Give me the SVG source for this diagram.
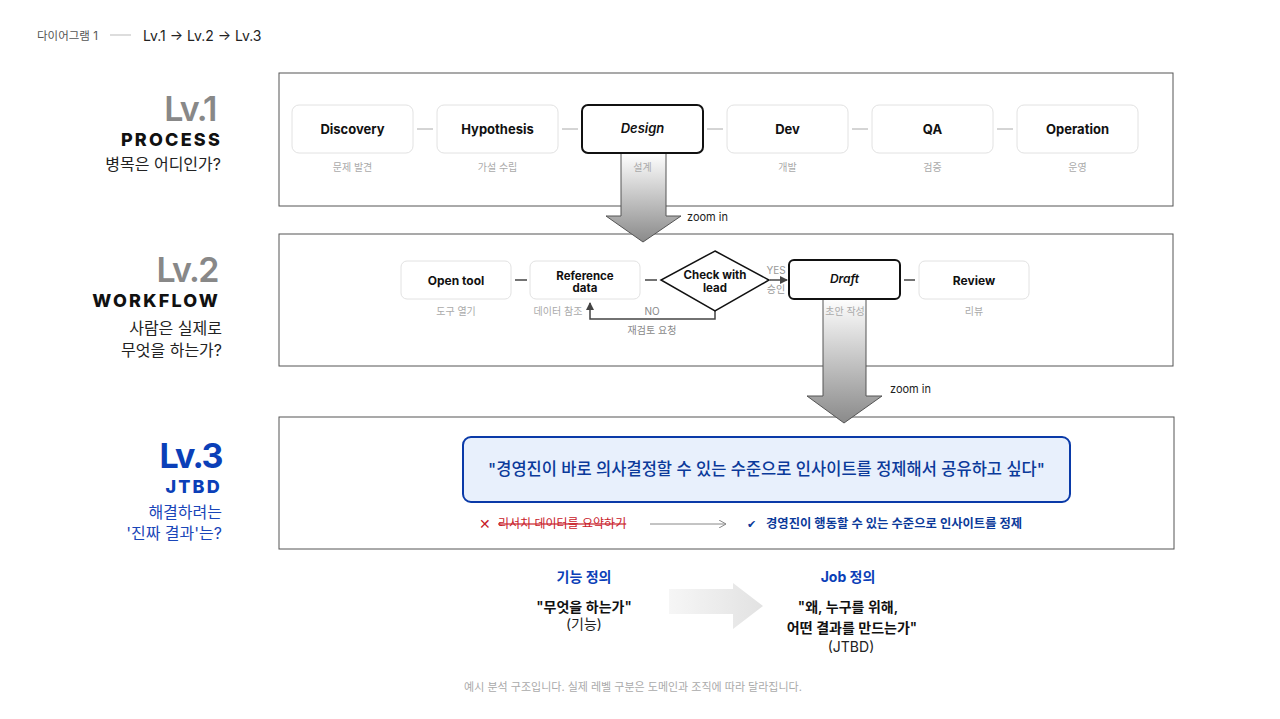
<svg xmlns="http://www.w3.org/2000/svg" width="1280" height="719" viewBox="0 0 1280 719">
<style>
text{font-family:Inter,"Noto Sans CJK KR",sans-serif;}
.panel{fill:#fff;stroke:#555;stroke-width:1;}
.node{fill:#fff;stroke:#e2e2e2;stroke-width:1;}
.focus{fill:#fff;stroke:#111;stroke-width:2;}
.nt{font-size:13px;font-weight:700;fill:#111;text-anchor:middle;}
.it{font-style:italic;font-weight:600;}
.sub{font-size:10px;fill:#aaa;text-anchor:middle;}
.dash{stroke:#aaa;stroke-width:1;}
.dash2{stroke:#444;stroke-width:1.5;}
.lvg{font-size:34px;font-weight:600;fill:#888;text-anchor:end;letter-spacing:-1.5px;}
.lvb{font-size:34px;font-weight:700;fill:#0b3fb8;text-anchor:end;letter-spacing:-1.5px;}
.cap{font-size:18px;font-weight:800;fill:#111;text-anchor:end;letter-spacing:2.2px;}
.q{font-size:16px;fill:#222;text-anchor:end;}
.zi{font-size:11px;fill:#222;}
.bz{stroke:#555;stroke-width:1;}
</style>
<defs>
<linearGradient id="gz" x1="0" y1="0" x2="0" y2="1">
<stop offset="0" stop-color="#ffffff"/>
<stop offset="1" stop-color="#8a8a8a"/>
</linearGradient>
<linearGradient id="gr" x1="0" y1="0" x2="1" y2="0">
<stop offset="0" stop-color="#f6f6f6"/>
<stop offset="1" stop-color="#e2e2e2"/>
</linearGradient>
<marker id="ah" markerWidth="8" markerHeight="8" refX="7" refY="4" orient="auto" markerUnits="userSpaceOnUse">
<path d="M0,0 L8,4 L0,8 Z" fill="#444"/>
</marker>
<marker id="ao" markerWidth="8" markerHeight="8" refX="7" refY="4" orient="auto" markerUnits="userSpaceOnUse">
<path d="M0,0 L7,4 L0,8" fill="none" stroke="#888" stroke-width="1"/>
</marker>
</defs>
<rect width="1280" height="719" fill="#fff"/>

<!-- header -->
<text x="37" y="40" font-size="11.5" fill="#555">다이어그램 1</text>
<line x1="110" y1="35" x2="131" y2="35" stroke="#bbb"/>
<text x="143" y="41" font-size="14" fill="#222">Lv.1 → Lv.2 → Lv.3</text>

<!-- level labels -->
<g id="label-lv1">
<text x="216" y="121" class="lvg">Lv.1</text>
<text x="222" y="146" class="cap">PROCESS</text>
<text x="221" y="170" class="q">병목은 어디인가?</text>
</g>
<g id="label-lv2">
<text x="218" y="282" class="lvg">Lv.2</text>
<text x="220" y="307" class="cap">WORKFLOW</text>
<text x="222" y="334" class="q">사람은 실제로</text>
<text x="222" y="356" class="q">무엇을 하는가?</text>
</g>
<g id="label-lv3">
<text x="222" y="468" class="lvb">Lv.3</text>
<text x="222" y="493" class="cap" style="fill:#0b3fb8">JTBD</text>
<text x="222" y="518" class="q" style="fill:#1a46b8">해결하려는</text>
<text x="222" y="539" class="q" style="fill:#1a46b8">'진짜 결과'는?</text>
</g>

<!-- panels -->
<rect id="panel-lv1" class="panel" x="279" y="73" width="894" height="133"/>
<rect id="panel-lv2" class="panel" x="279" y="234" width="894" height="132"/>
<rect id="panel-lv3" class="panel" x="279" y="417" width="895" height="132"/>

<!-- connectors -->
<g id="connectors">
<line class="dash" x1="417" y1="129" x2="433" y2="129"/>
<line class="dash" x1="562" y1="129" x2="578" y2="129"/>
<line class="dash" x1="707" y1="129" x2="723" y2="129"/>
<line class="dash" x1="852" y1="129" x2="868" y2="129"/>
<line class="dash" x1="997" y1="129" x2="1013" y2="129"/>
<line class="dash2" x1="515" y1="280" x2="527" y2="280"/>
<line class="dash2" x1="645" y1="280" x2="657" y2="280"/>
<line class="dash2" x1="770" y1="280" x2="787" y2="280" marker-end="url(#ah)"/>
<line class="dash2" x1="904" y1="280" x2="915" y2="280"/>
<polyline points="715,311 715,319 590,319 590,303" fill="none" stroke="#444" stroke-width="1.5" marker-end="url(#ah)"/>
<text x="776" y="274" font-size="10" fill="#999" text-anchor="middle">YES</text>
<text x="776" y="293" font-size="10" fill="#999" text-anchor="middle">승인</text>
<text x="652" y="315" font-size="10" fill="#888" text-anchor="middle">NO</text>
<text x="652" y="334" font-size="10" fill="#888" text-anchor="middle">재검토 요청</text>
</g>

<!-- Lv.1 nodes -->
<g id="n-discovery"><rect class="node" x="292" y="105" width="121" height="48" rx="7"/><text class="nt" x="352.5" y="134">Discovery</text><text class="sub" x="352.5" y="171">문제 발견</text></g>
<g id="n-hypothesis"><rect class="node" x="437" y="105" width="121" height="48" rx="7"/><text class="nt" x="497.5" y="134">Hypothesis</text><text class="sub" x="497.5" y="171">가설 수립</text></g>
<g id="n-dev"><rect class="node" x="727" y="105" width="121" height="48" rx="7"/><text class="nt" x="787.5" y="134">Dev</text><text class="sub" x="787.5" y="171">개발</text></g>
<g id="n-qa"><rect class="node" x="872" y="105" width="121" height="48" rx="7"/><text class="nt" x="932.5" y="134">QA</text><text class="sub" x="932.5" y="171">검증</text></g>
<g id="n-operation"><rect class="node" x="1017" y="105" width="121" height="48" rx="7"/><text class="nt" x="1077.5" y="134">Operation</text><text class="sub" x="1077.5" y="171">운영</text></g>

<!-- Lv.2 nodes -->
<g id="n-opentool"><rect class="node" x="401" y="261" width="110" height="38" rx="6"/><text class="nt" x="456" y="285" style="font-size:12px">Open tool</text><text class="sub" x="456" y="315">도구 열기</text></g>
<g id="n-reference"><rect class="node" x="530" y="261" width="110" height="38" rx="6"/><text class="nt" x="585" y="280" style="font-size:11.5px">Reference</text><text class="nt" x="585" y="292" style="font-size:11.5px">data</text><text class="sub" x="558" y="315">데이터 참조</text></g>
<g id="n-check"><polygon points="715,251 769,280 715,311 661,280" fill="#fff" stroke="#111" stroke-width="1.5"/><text class="nt" x="715" y="279" style="font-size:11.5px">Check with</text><text class="nt" x="715" y="292" style="font-size:11.5px">lead</text></g>
<g id="n-review"><rect class="node" x="919" y="261" width="110" height="38" rx="6"/><text class="nt" x="974" y="285" style="font-size:12px">Review</text><text class="sub" x="974" y="315">리뷰</text></g>

<!-- zoom arrows -->
<g id="zoom-1">
<path class="bz" d="M621,153 L666,153 L666,216 L681,216 L643,242 L606,216 L621,216 Z" fill="url(#gz)"/>
<text class="zi" x="687" y="221">zoom in</text>
</g>
<g id="zoom-2">
<path class="bz" d="M823,298 L866,298 L866,396 L882,396 L844,423 L807,396 L823,396 Z" fill="url(#gz)"/>
<text class="zi" x="890" y="393">zoom in</text>
</g>
<g id="n-design"><rect class="focus" x="582" y="105" width="121" height="48" rx="6"/><text class="nt it" x="642.5" y="133">Design</text><text class="sub" x="642.5" y="171">설계</text></g>
<g id="n-draft"><rect class="focus" x="789" y="260" width="111" height="39" rx="5"/><text class="nt it" x="844.5" y="283" style="font-size:12px">Draft</text><text class="sub" x="845" y="315">초안 작성</text></g>

<!-- Lv.3 -->
<g id="n-jtbd">
<rect x="463" y="437" width="607" height="65" rx="8" fill="#e8f0fc" stroke="#0a3aa8" stroke-width="2"/>
<text x="766.5" y="475" font-size="16.5" font-weight="500" fill="#0b3a9a" text-anchor="middle">"경영진이 바로 의사결정할 수 있는 수준으로 인사이트를 정제해서 공유하고 싶다"</text>
</g>
<g id="n-compare">
<text x="479" y="529" font-size="14" fill="#c8202a">✕</text>
<text x="498" y="528" font-size="12" fill="#c8202a" text-decoration="line-through">리서치 데이터를 요약하기</text>
<line x1="650" y1="524" x2="726" y2="524" stroke="#888" stroke-width="1" marker-end="url(#ao)"/>
<text x="747" y="528" font-size="11" fill="#0b3a9a">✔</text>
<text x="766" y="528" font-size="12.3" font-weight="600" fill="#0b3a9a">경영진이 행동할 수 있는 수준으로 인사이트를 정제</text>
</g>

<!-- bottom -->
<g id="n-func">
<text x="584" y="582" font-size="14" font-weight="700" fill="#0b3fb8" text-anchor="middle">기능 정의</text>
<text x="584" y="612" font-size="14" font-weight="600" fill="#111" text-anchor="middle">"무엇을 하는가"</text>
<text x="584" y="629" font-size="14" fill="#222" text-anchor="middle">(기능)</text>
</g>
<path id="big-arrow" d="M669,589 L733,589 L733,583 L763,606 L733,629 L733,614 L669,614 Z" fill="url(#gr)"/>
<g id="n-job">
<text x="848" y="582" font-size="14" font-weight="700" fill="#0b3fb8" text-anchor="middle">Job 정의</text>
<text x="848" y="612" font-size="14" font-weight="600" fill="#111" text-anchor="middle">"왜, 누구를 위해,</text>
<text x="852" y="633" font-size="14" font-weight="600" fill="#111" text-anchor="middle">어떤 결과를 만드는가"</text>
<text x="851" y="652" font-size="14" fill="#222" text-anchor="middle">(JTBD)</text>
</g>
<text x="633" y="691" font-size="11" fill="#aaa" text-anchor="middle">예시 분석 구조입니다. 실제 레벨 구분은 도메인과 조직에 따라 달라집니다.</text>
</svg>
